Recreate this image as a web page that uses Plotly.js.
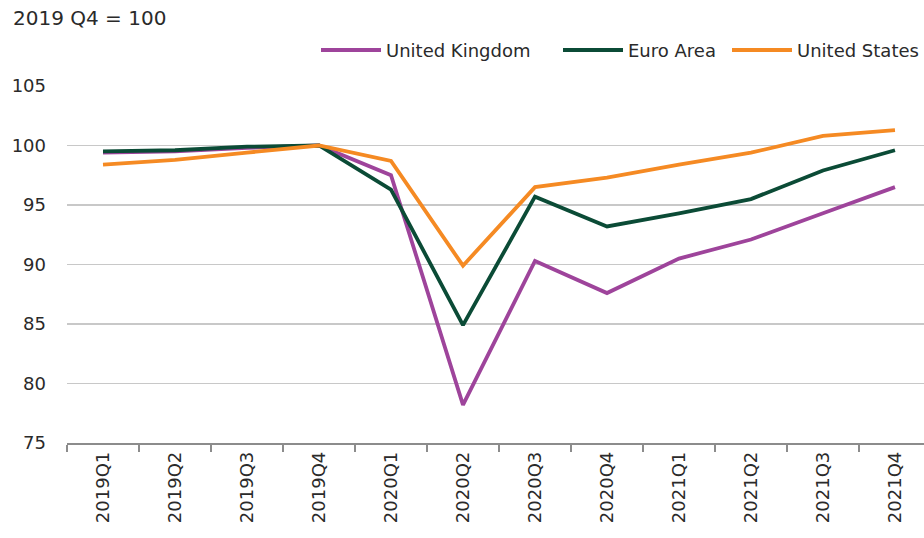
<!DOCTYPE html>
<html>
<head>
<meta charset="utf-8">
<script src="https://cdn.plot.ly/plotly-3.0.1.min.js"></script>
<style>html,body{margin:0;padding:0;background:#fff}#chart{width:924px;height:538px}</style>
</head>
<body>
<div id="chart"></div>
<script>
const quarters = ["2019Q1","2019Q2","2019Q3","2019Q4","2020Q1","2020Q2","2020Q3","2020Q4","2021Q1","2021Q2","2021Q3","2021Q4"];
const ukValues = [99.4, 99.5, 99.8, 100.0, 97.5, 78.2, 90.3, 87.6, 90.5, 92.1, 94.3, 96.5];
const euroValues = [99.5, 99.6, 99.9, 100.0, 96.3, 84.9, 95.7, 93.2, 94.3, 95.5, 97.9, 99.6];
const usValues = [98.4, 98.8, 99.4, 100.0, 98.7, 89.9, 96.5, 97.3, 98.4, 99.4, 100.8, 101.3];
const yTicks = [75, 80, 85, 90, 95, 100, 105];

const font = {family: "'DejaVu Sans', sans-serif", size: 18, color: "#2a2a2a"};
const mk = (name, y, color, lg) => ({
  type: "scatter", mode: "lines", name: name, x: quarters, y: y, legend: lg,
  line: {color: color, width: 3.8}
});
const data = [
  mk("United Kingdom", ukValues, "#9e449b", "legend"),
  mk("Euro Area", euroValues, "#0b4b36", "legend2"),
  mk("United States", usValues, "#f58a23", "legend3")
];
const px = v => (v - 67) / 857;
const lg = (x, anchor) => ({x: x, xanchor: anchor, y: 1.10, yanchor: "middle", font: font,
                  itemwidth: 60, bgcolor: "rgba(0,0,0,0)"});
const layout = {
  width: 924, height: 538,
  margin: {l: 67, r: 0, t: 86, b: 95},
  paper_bgcolor: "#fff", plot_bgcolor: "#fff",
  font: font,
  showlegend: true,
  legend: lg(px(316), "left"),
  legend2: lg(px(558), "left"),
  legend3: lg(1, "right"),
  title: {text: "2019 Q4 = 100", xref: "container", yref: "container", x: 13/924, xanchor: "left",
          y: 1 - 18/538, yanchor: "middle", font: {family: font.family, size: 20, color: font.color}},
  xaxis: {type: "category", range: [-0.5, 11.403], tickson: "boundaries", ticks: "outside",
          ticklen: 7, tickcolor: "#8c8c8c", tickwidth: 1.5, showline: true, linecolor: "#8c8c8c",
          linewidth: 1.5, showgrid: false, tickangle: -90, tickfont: font, fixedrange: true},
  yaxis: {range: [75, 105], tickvals: yTicks, showgrid: true, gridcolor: "#c8c8c8", gridwidth: 1.5,
          zeroline: false, showline: false, ticks: "", tickfont: font, ticklabelstandoff: 20}
};
Plotly.newPlot("chart", data, layout, {displayModeBar: false, staticPlot: true});
</script>
</body>
</html>
